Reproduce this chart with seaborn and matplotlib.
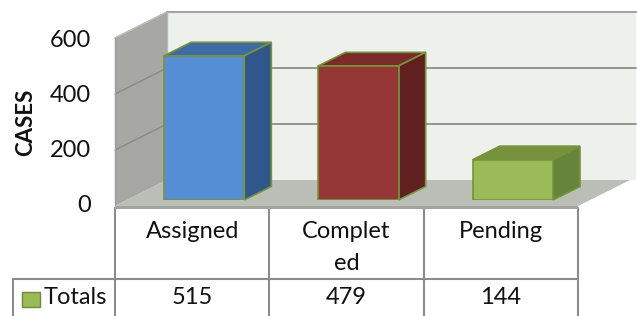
import numpy as np
import matplotlib
matplotlib.use("Agg")
import matplotlib.pyplot as plt
import matplotlib.transforms as mtransforms
from matplotlib.patches import Polygon, Rectangle
import seaborn as sns

categories = ["Assigned", "Completed", "Pending"]
header_labels = ["Assigned", "Complet\ned", "Pending"]
totals = [515, 479, 144]
series_name = "Totals"
yticks = [0, 200, 400, 600]
ylabel = "CASES"

front_colors = ["#558ED5", "#953735", "#9BBB59"]
top_colors = ["#3C6BA6", "#7A2A28", "#76923C"]
side_colors = ["#30578C", "#5F201F", "#66843A"]
bar_edge = "#77933C"

sns.set_style("white")
plt.rcParams["font.family"] = ["Lato", "DejaVu Sans"]

W, H = 637, 316
fig = plt.figure(figsize=(W / 100, H / 100), dpi=100)
fig.patch.set_facecolor("white")

# overlay in image pixels for the table and texts
pix = fig.add_axes([0, 0, 1, 1], zorder=0)
pix.set_xlim(0, W)
pix.set_ylim(H, 0)
pix.axis("off")

# front plane of the bars
ax = fig.add_axes([127 / W, (H - 200) / H, 463 / W, 168 / H], zorder=1)

# bars (front faces)
sns.barplot(x=categories, y=totals, hue=categories, palette=front_colors,
            saturation=1, width=0.52, legend=False, ax=ax,
            edgecolor=bar_edge, linewidth=1.2, zorder=3)
bars = sorted([p for c in ax.containers for p in c], key=lambda p: p.get_x())
ax.set_xlim(-0.5, 2.5)
ax.set_ylim(0, 600)
ax.axis("off")

D0 = 0.23      # depth of bar front plane
BD = 0.52      # bar depth
DX, DY = 52, 26
ident = mtransforms.IdentityTransform()


def pt(x, y, d):
    X, Y = ax.transData.transform((x, y))
    return (X + DX * (d - D0), Y + DY * (d - D0))


def poly(points, color, z, ec="none", lw=0):
    ax.add_patch(Polygon(points, closed=True, facecolor=color, edgecolor=ec,
                         linewidth=lw, transform=ident, clip_on=False, zorder=z))


def line(p, q, color, lw, z):
    ax.add_line(plt.Line2D([p[0], q[0]], [p[1], q[1]], color=color, lw=lw,
                           transform=ident, clip_on=False, zorder=z))


x_l, x_r = -0.5, 2.5
ymax = yticks[-1]

# walls and floor
poly([pt(x_l, 0, 1), pt(x_r + 0.04, 0, 1), pt(x_r + 0.04, ymax, 1), pt(x_l, ymax, 1)], "#EEF1EB", 0)
poly([pt(x_l, 0, 0), pt(x_l, 0, 1), pt(x_l, ymax, 1), pt(x_l, ymax, 0)], "#A7A8A3", 0.5)
for v in yticks[1:]:
    line(pt(x_l, v, 1), pt(x_r + 0.04, v, 1), "#8E8F8B", 1.3, 0.6)
    line(pt(x_l, v, 0), pt(x_l, v, 1), "#8A8B86", 1.0, 0.6)
line(pt(x_l, ymax, 0), pt(x_l, ymax, 1), "#C4C5C1", 1.0, 0.7)
line(pt(x_l, ymax, 1), pt(x_r + 0.04, ymax, 1), "#A3A4A0", 1.5, 0.7)
line(pt(x_l, 0, 1), pt(x_l, ymax, 1), "#B8B9B5", 1.0, 0.7)

fl = [pt(x_l, 0, 0), pt(x_r, 0, 0), pt(x_r, 0, 1), pt(x_l, 0, 1)]
poly(fl, "#BBBDB7", 0.8)
a, b = pt(x_l, 0, 0), pt(x_r, 0, 0)
poly([a, b, (b[0], b[1] - 3), (a[0], a[1] - 3)], "#A2A49E", 0.85)
line(pt(x_l, 0, 0), pt(x_l, ymax, 0), "#9C9D98", 1.0, 0.7)

# bar tops and sides
for i, p in enumerate(bars):
    x0, w, h = p.get_x(), p.get_width(), p.get_height()
    poly([pt(x0, h, D0), pt(x0 + w, h, D0), pt(x0 + w, h, D0 + BD), pt(x0, h, D0 + BD)],
         top_colors[i], 2.5, bar_edge, 1.2)
    poly([pt(x0 + w, 0, D0), pt(x0 + w, h, D0), pt(x0 + w, h, D0 + BD), pt(x0 + w, 0, D0 + BD)],
         side_colors[i], 2.5, bar_edge, 1.2)


def to_img(p):
    return p[0], H - p[1]


txt = "#111111"
fs = 17

# y tick labels and axis title
for v in yticks:
    X, Y = to_img(pt(x_l, v, 0))
    pix.text(X - 24, Y + 3 * v / ymax, str(v), ha="right", va="center",
             fontsize=fs, color=txt)
pix.text(26, 122, ylabel, rotation=90, ha="center", va="center",
         fontsize=16, fontweight="bold", color=txt)

# data table
cols = [to_img(pt(x, 0, 0))[0] for x in [-0.5, 0.5, 1.5, 2.5]]
top_y = to_img(pt(x_l, 0, 0))[1]
row_y = 279
grid_c = "#8C8C8C"
for cx in cols:
    pix.plot([cx, cx], [top_y + 2, H + 2], color=grid_c, lw=1.5, zorder=1)
pix.plot([13, cols[-1]], [row_y, row_y], color=grid_c, lw=1.5, zorder=1)
pix.plot([13, 13], [row_y, H + 2], color=grid_c, lw=1.5, zorder=1)

for i, lab in enumerate(header_labels):
    cx = (cols[i] + cols[i + 1]) / 2
    for k, part in enumerate(lab.split("\n")):
        pix.text(cx, 232 + 31 * k, part, ha="center", va="center", fontsize=fs,
                 color=txt)
    pix.text(cx, 298, str(totals[i]), ha="center", va="center", fontsize=fs,
             color=txt)

pix.add_patch(Rectangle((22, 292), 18, 15, facecolor=front_colors[2],
                        edgecolor="#71893F", lw=1, zorder=2))
pix.text(44, 298, series_name, ha="left", va="center", fontsize=fs, color=txt)

fig.savefig("out.png", dpi=100)
